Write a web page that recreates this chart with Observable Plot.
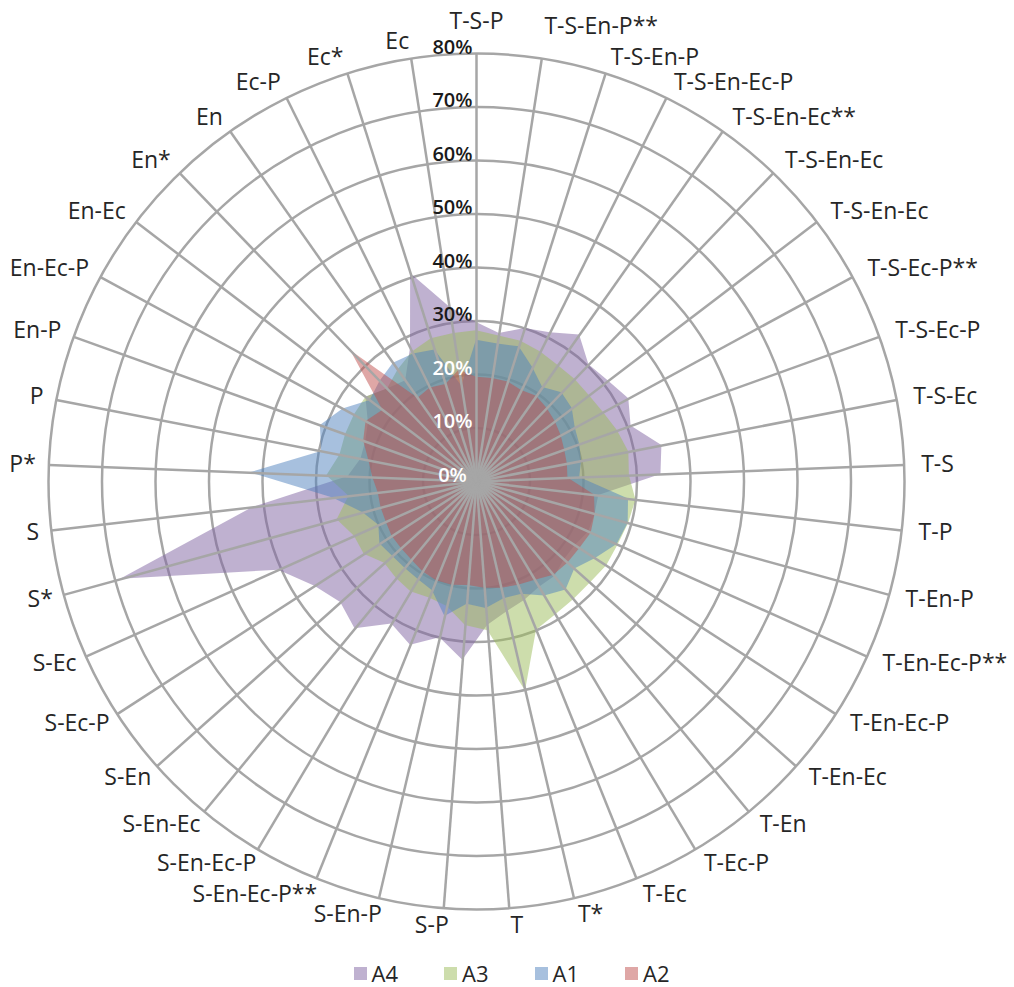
<!DOCTYPE html>
<html>
<head>
<meta charset="utf-8">
<script src="https://cdn.jsdelivr.net/npm/d3@7"></script>
<script src="https://cdn.jsdelivr.net/npm/@observablehq/plot@0.6"></script>
<style>
  html, body { margin: 0; padding: 0; background: #fff; }
  body { width: 1014px; font-family: "Open Sans", sans-serif; }
  #chart svg { display: block; }
  #legend { display: flex; justify-content: center; align-items: center; height: 46px; padding-left: 9px; box-sizing: border-box; }
  .item { display: flex; align-items: center; margin: 0 23px; font-size: 22px; color: #262626; }
  .sw { width: 13px; height: 13px; margin-right: 5px; }
</style>
</head>
<body>
<div id="chart"></div>
<div id="legend"></div>
<script>
// ---- data ----
const categories = [
  "T-S-P", "T-S-En-P**", "T-S-En-P", "T-S-En-Ec-P", "T-S-En-Ec**", "T-S-En-Ec", "T-S-En-Ec",
  "T-S-Ec-P**", "T-S-Ec-P", "T-S-Ec", "T-S", "T-P", "T-En-P", "T-En-Ec-P**", "T-En-Ec-P",
  "T-En-Ec", "T-En", "T-Ec-P", "T-Ec", "T*", "T", "S-P", "S-En-P", "S-En-Ec-P**", "S-En-Ec-P",
  "S-En-Ec", "S-En", "S-Ec-P", "S-Ec", "S*", "S", "P*", "P", "En-P", "En-Ec-P", "En-Ec",
  "En*", "En", "Ec-P", "Ec*", "Ec"
];
const A4 = [29.7, 28, 30, 31, 33.5, 30.3, 31, 32.4, 30.7, 35.3, 34.5, 23, 23, 23, 22, 22, 23, 23, 24, 25, 27,
            33.5, 30, 33, 31, 35.7, 34, 36, 40.5, 69, 42, 24, 22, 22, 23, 26, 24, 23, 27.8, 40.8, 33];
const A3 = [28.2, 27.5, 27.5, 27, 26.5, 26.5, 26.5, 27, 28, 29, 28.6, 30, 29.5, 29, 29, 28.5, 28.6, 29, 30, 40.2, 28,
            27, 24, 23.5, 24, 23.5, 23, 25, 25, 27, 24, 28, 26, 26, 26, 26, 24, 25.5, 27, 28, 28];
const A1 = [26.4, 26, 26.4, 23.7, 21.5, 23, 22.5, 21, 20.5, 20, 19.3, 28.6, 29.4, 28.8, 26.5, 24.6, 26.3, 24.9, 22.7, 22.5, 23.8,
            23, 25.9, 22, 21.3, 21, 21, 21.5, 20, 22, 27, 42.3, 29.5, 31, 28.4, 25, 26, 27, 26.6, 25.8, 18];
const A2 = [19.5, 19.5, 19.5, 19, 19.5, 19, 18.5, 18, 17.5, 17.3, 17.1, 22.2, 23, 23.5, 23, 22.9, 22.7, 21.5, 20.9, 20.5, 20,
            19.5, 19.9, 20, 19.6, 19, 18.8, 18.8, 18.5, 18.5, 18.5, 19.4, 20.5, 22.4, 23.5, 22, 33.9, 19, 19.5, 19, 21.1];
const seriesNames = ["A4", "A3", "A1", "A2"];
const seriesColors = ["#8064A2", "#9BBB59", "#4F81BD", "#C0504D"];
const tickValues = [0, 10, 20, 30, 40, 50, 60, 70, 80];
const tickLabels = ["0%", "10%", "20%", "30%", "40%", "50%", "60%", "70%", "80%"];

// ---- layout ----
const W = 1014, H = 950, CX = 476, CY = 481, RMAX = 80, K = 428 / 80;
const n = categories.length;
const ang = i => 2 * Math.PI * i / n;
const px = (v, i) => v * Math.sin(ang(i));
const py = (v, i) => v * Math.cos(ang(i));
const idx = d3.range(n);
const series = [A4, A3, A1, A2];
const labR = RMAX + 17 / K;
// labels just right of the value axis are lifted clear of the axis tick labels
const lift = i => (Math.sin(ang(i)) >= 0 && Math.cos(ang(i)) > 0.98) ? 15 / K : 0;
const rightIdx = idx.filter(i => Math.sin(ang(i)) > 0.01);
const leftIdx = idx.filter(i => Math.sin(ang(i)) < -0.01);
const topIdx = idx.filter(i => Math.abs(Math.sin(ang(i))) <= 0.01);
const gridRings = tickValues.filter(v => v > 0);
const labelFont = 23;

const chart = Plot.plot({
  width: W,
  height: H,
  marginTop: 0, marginRight: 0, marginBottom: 0, marginLeft: 0,
  x: {domain: [-CX / K, (W - CX) / K], axis: null},
  y: {domain: [-(H - CY) / K, CY / K], axis: null},
  r: {type: "linear", domain: [0, RMAX], range: [0, RMAX * K]},
  style: {fontFamily: "'Open Sans', sans-serif", background: "white", overflow: "visible"},
  marks: [
    Plot.dot(gridRings, {x: 0, y: 0, r: d => d, fill: "none", stroke: "#a6a6a6", strokeWidth: 2.5}),
    ...series.map((s, k) => Plot.area(idx, {
      x1: i => px(s[i], i), y1: i => py(s[i], i), x2: 0, y2: 0,
      curve: "linear-closed", fill: seriesColors[k], fillOpacity: 0.5
    })),
    Plot.link(idx, {x1: 0, y1: 0, x2: i => px(RMAX, i), y2: i => py(RMAX, i), stroke: "#a6a6a6", strokeWidth: 2.5}),
    Plot.text(tickValues, {
      x: 0, y: d => d, dx: -24, dy: -6, text: (d, j) => tickLabels[j],
      textAnchor: "middle", fontSize: 20, fontWeight: 600,
      fill: d => d <= 20 ? "white" : "#1a1a1a"
    }),
    Plot.text(topIdx, {x: i => px(labR, i), y: i => py(labR, i) + lift(i), text: i => categories[i],
      textAnchor: "middle", fontSize: labelFont, fill: "#262626"}),
    Plot.text(rightIdx, {x: i => px(labR, i), y: i => py(labR, i) + lift(i), text: i => categories[i],
      textAnchor: "start", fontSize: labelFont, fill: "#262626"}),
    Plot.text(leftIdx, {
      x: i => px(RMAX + 13 / K, i) + (6 / K) * Math.max(0, -Math.cos(ang(i))),
      y: i => py(labR, i), text: i => categories[i],
      textAnchor: "end", fontSize: labelFont, fill: "#262626"})
  ]
});
document.getElementById("chart").appendChild(chart);

// ---- legend ----
const legend = document.getElementById("legend");
seriesNames.forEach((name, k) => {
  const item = document.createElement("div");
  item.className = "item";
  const sw = document.createElement("span");
  sw.className = "sw";
  sw.style.background = seriesColors[k];
  sw.style.opacity = 0.5;
  const t = document.createElement("span");
  t.textContent = name;
  item.appendChild(sw);
  item.appendChild(t);
  legend.appendChild(item);
});
</script>
</body>
</html>
